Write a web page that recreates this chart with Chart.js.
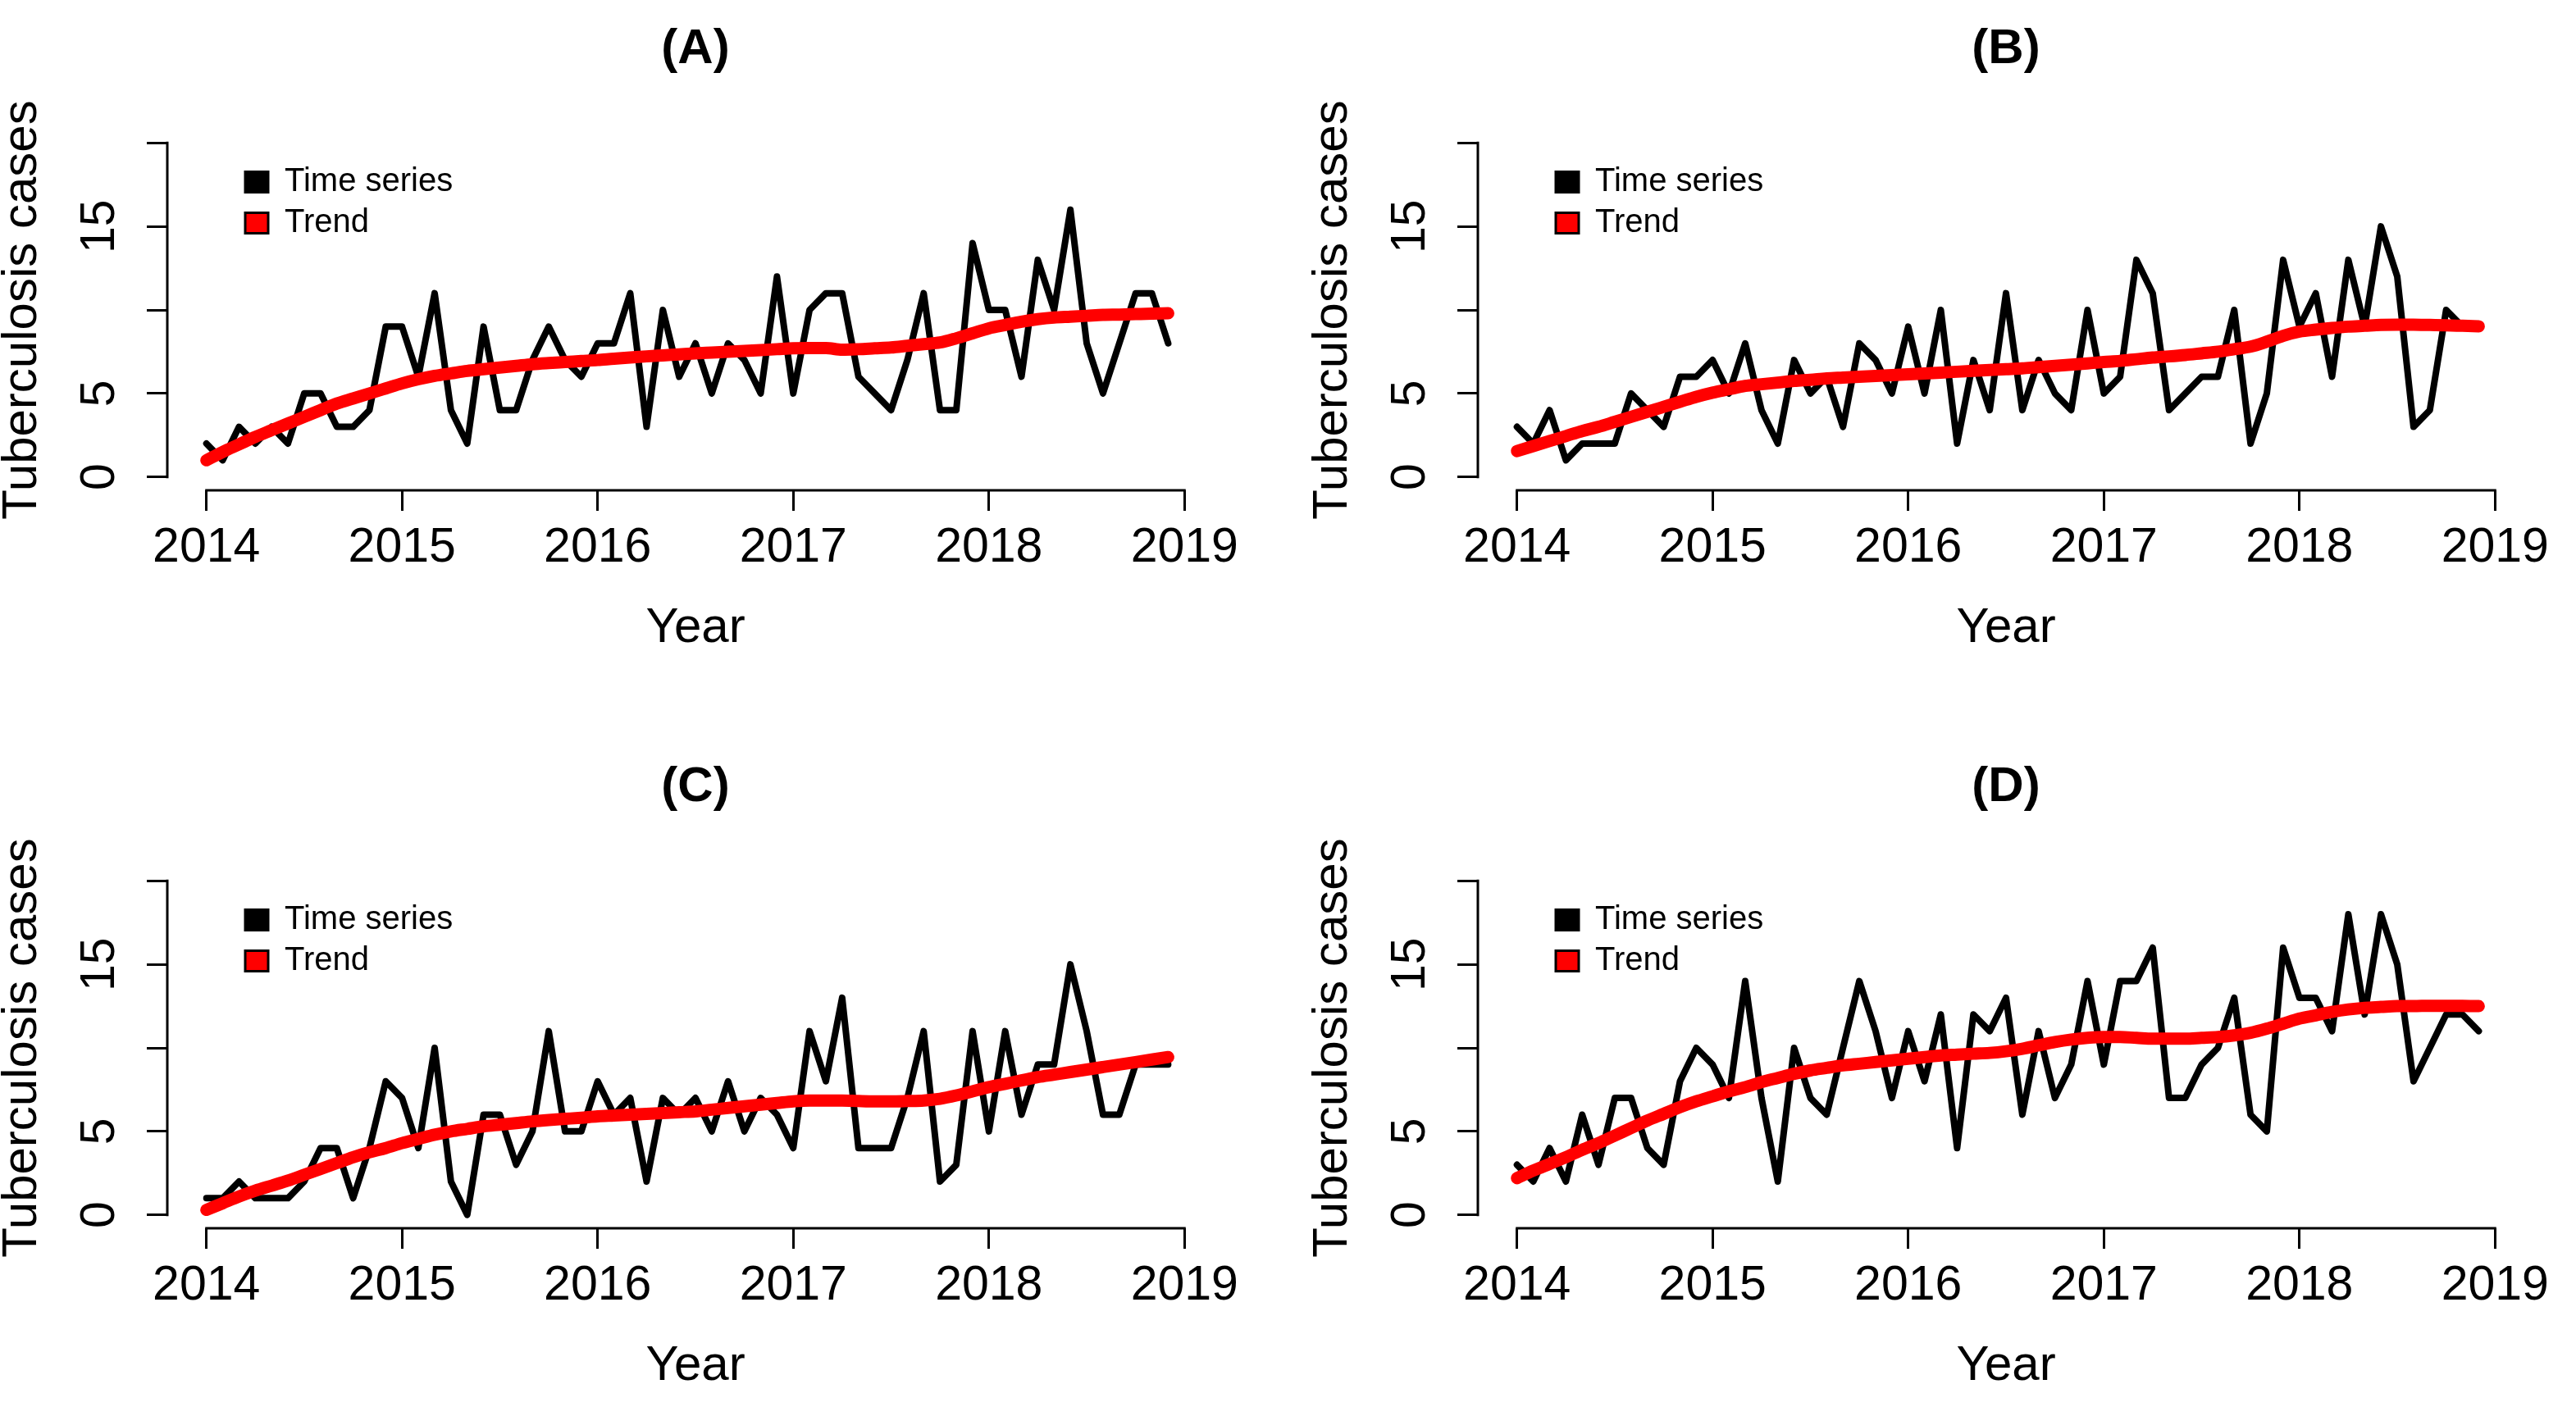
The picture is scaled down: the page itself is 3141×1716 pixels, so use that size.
<!DOCTYPE html>
<html>
<head>
<meta charset="utf-8">
<script src="https://cdn.jsdelivr.net/npm/chart.js@4.4.1/dist/chart.umd.min.js"></script>
<style>
html,body{margin:0;padding:0;background:#ffffff;overflow:hidden;width:3141px;height:1716px;}
canvas{position:absolute;}
</style>
</head>
<body>
<canvas id="panelA" width="1696" height="860" style="left:0px;top:0px"></canvas>
<canvas id="panelB" width="1696" height="860" style="left:1598px;top:0px"></canvas>
<canvas id="panelC" width="1696" height="860" style="left:0px;top:900px"></canvas>
<canvas id="panelD" width="1696" height="860" style="left:1598px;top:900px"></canvas>
<script>
// ---------- data ----------
const startYear = 2014;
const monthsPerYear = 12;
const xTickValues = [2014, 2015, 2016, 2017, 2018, 2019];
const xTickLabels = ['2014', '2015', '2016', '2017', '2018', '2019'];
const yTickValues = [0, 5, 10, 15, 20];
const yTickLabels = ['0', '5', '', '15', ''];
const panelTitles = ['(A)', '(B)', '(C)', '(D)'];
const legendLabels = ['Time series', 'Trend'];
const xAxisTitle = 'Year';
const yAxisTitle = 'Tuberculosis cases';

const seriesA = [2,1,3,2,3,2,5,5,3,3,4,9,9,6,11,4,2,9,4,4,7,9,7,6,8,8,11,3,10,6,8,5,
                 8,7,5,12,5,10,11,11,6,5,4,7,11,4,4,14,10,10,6,13,10,16,8,5,8,11,11,8];
const trendA  = [1.0,1.5,1.95,2.4,2.8,3.2,3.6,4.0,4.4,4.7,5.0,5.3,5.6,5.85,6.05,6.2,6.35,6.45,6.55,6.65,
                 6.75,6.82,6.88,6.94,7.0,7.08,7.15,7.22,7.28,7.34,7.4,7.45,7.5,7.55,7.6,7.65,7.7,7.72,7.72,7.62,
                 7.65,7.7,7.75,7.85,7.95,8.05,8.3,8.6,8.9,9.1,9.3,9.45,9.55,9.6,9.65,9.7,9.72,9.75,9.78,9.8];

const seriesB = [3,2,4,1,2,2,2,5,4,3,6,6,7,5,8,4,2,7,5,6,3,8,7,5,9,5,10,2,7,4,11,4,
                 7,5,4,10,5,6,13,11,4,5,6,6,10,2,5,13,9,11,6,13,9,15,12,3,4,10,9,9];
const trendB  = [1.55,1.85,2.15,2.45,2.75,3.0,3.3,3.6,3.9,4.2,4.5,4.8,5.05,5.25,5.45,5.55,5.65,5.75,5.82,5.9,
                 5.95,6.0,6.05,6.1,6.15,6.2,6.25,6.3,6.35,6.4,6.45,6.5,6.58,6.65,6.72,6.8,6.88,6.95,7.05,7.15,
                 7.22,7.3,7.4,7.5,7.65,7.8,8.1,8.45,8.7,8.82,8.92,9.0,9.05,9.1,9.12,9.12,9.1,9.08,9.05,9.02];

const seriesC = [1,1,2,1,1,1,2,4,4,1,4,8,7,4,10,2,0,6,6,3,5,11,5,5,8,6,7,2,7,6,7,5,
                 8,5,7,6,4,11,8,13,4,4,4,7,11,2,3,11,5,11,6,9,9,15,11,6,6,9,9,9];
const trendC  = [0.3,0.7,1.1,1.45,1.75,2.05,2.4,2.75,3.1,3.45,3.75,4.0,4.3,4.55,4.8,5.0,5.15,5.3,5.4,5.5,
                 5.6,5.68,5.75,5.82,5.9,5.95,6.0,6.05,6.1,6.15,6.2,6.3,6.4,6.5,6.6,6.7,6.8,6.85,6.85,6.85,
                 6.82,6.8,6.8,6.82,6.85,6.95,7.15,7.4,7.65,7.85,8.05,8.25,8.4,8.55,8.7,8.85,9.0,9.15,9.3,9.45];

const seriesD = [3,2,4,2,6,3,7,7,4,3,8,10,9,7,14,7,2,10,7,6,10,14,11,7,11,8,12,4,12,11,13,6,
                 11,7,9,14,9,14,14,16,7,7,9,10,13,6,5,16,13,13,11,18,12,18,15,8,10,12,12,11];
const trendD  = [2.2,2.65,3.05,3.45,3.9,4.3,4.75,5.2,5.65,6.05,6.45,6.8,7.1,7.4,7.65,7.95,8.2,8.45,8.65,8.8,
                 8.95,9.05,9.15,9.25,9.35,9.45,9.55,9.6,9.65,9.7,9.8,9.95,10.15,10.35,10.5,10.6,10.65,10.65,10.6,10.55,
                 10.55,10.55,10.6,10.65,10.75,10.9,11.15,11.45,11.75,11.95,12.15,12.3,12.4,12.45,12.5,12.5,12.52,12.52,12.52,12.5];

// ---------- styling / layout ----------
const FONT = "'Liberation Sans', Arial, Helvetica, sans-serif";
const seriesColor = '#000000';
const trendColor = '#ff0000';
const legendFill = [seriesColor, trendColor];

const toPoints = (vals) => vals.map((v, i) => ({ x: startYear + i / monthsPerYear, y: v }));

const rStylePlugin = {
  id: 'rStyle',
  afterLayout(chart) {
    if (chart.legend) {
      chart.legend.left = chart.chartArea.left + 85;
      chart.legend.top = chart.chartArea.top + 34;
    }
  },
  beforeDatasetsDraw(chart) {
    const { ctx, chartArea, scales } = chart;
    const x = scales.x, y = scales.y;
    ctx.save();
    ctx.strokeStyle = '#000';
    ctx.lineWidth = 3;
    ctx.lineCap = 'square';
    ctx.beginPath();
    const yb = Math.round(chartArea.bottom);
    ctx.moveTo(x.getPixelForValue(xTickValues[0]), yb);
    ctx.lineTo(x.getPixelForValue(xTickValues[xTickValues.length - 1]), yb);
    const xl = Math.round(chartArea.left);
    ctx.moveTo(xl, y.getPixelForValue(yTickValues[0]));
    ctx.lineTo(xl, y.getPixelForValue(yTickValues[yTickValues.length - 1]));
    ctx.stroke();
    ctx.restore();
  }
};

function makePanel(canvasId, title, series, trend) {
  const ctx = document.getElementById(canvasId).getContext('2d');
  return new Chart(ctx, {
    type: 'line',
    data: {
      datasets: [
        {
          label: legendLabels[0],
          data: toPoints(series),
          borderColor: seriesColor,
          backgroundColor: seriesColor,
          borderWidth: 8,
          borderJoinStyle: 'round',
          borderCapStyle: 'round',
          pointRadius: 0,
          tension: 0,
          order: 2
        },
        {
          label: legendLabels[1],
          data: toPoints(trend),
          borderColor: trendColor,
          backgroundColor: trendColor,
          borderWidth: 15,
          borderJoinStyle: 'round',
          borderCapStyle: 'round',
          pointRadius: 0,
          cubicInterpolationMode: 'monotone',
          order: 1
        }
      ]
    },
    options: {
      responsive: false,
      animation: false,
      devicePixelRatio: 1,
      layout: { padding: 0 },
      plugins: {
        tooltip: { enabled: false },
        title: {
          display: true,
          text: title,
          color: '#000',
          font: { family: FONT, size: 60, weight: 'bold' },
          padding: { top: 24, bottom: 62 }
        },
        legend: {
          display: true,
          position: 'chartArea',
          align: 'start',
          labels: {
            color: '#000',
            font: { family: FONT, size: 40 },
            boxWidth: 28,
            boxHeight: 25,
            padding: 10,
            generateLabels: () => legendLabels.map((text, i) => ({
              text: text,
              fillStyle: legendFill[i],
              strokeStyle: '#000',
              lineWidth: 3,
              hidden: false,
              datasetIndex: i,
              fontColor: '#000'
            }))
          }
        }
      },
      scales: {
        x: {
          type: 'linear',
          min: 2013.8,
          max: 2019.2,
          afterBuildTicks: (s) => { s.ticks = xTickValues.map(v => ({ value: v })); },
          afterFit: (s) => { s.height = 262; },
          border: { display: false },
          grid: { display: true, drawOnChartArea: false, drawTicks: true, tickLength: 25, color: '#000', lineWidth: 3 },
          ticks: {
            autoSkip: false, maxRotation: 0, minRotation: 0, padding: 10,
            color: '#000', font: { family: FONT, size: 59 },
            callback: (v, i) => xTickLabels[i]
          },
          title: {
            display: true, text: xAxisTitle, color: '#000',
            font: { family: FONT, size: 60 },
            padding: { top: 0, bottom: 58 }
          }
        },
        y: {
          type: 'linear',
          position: 'left',
          min: -0.8,
          max: 20.8,
          afterBuildTicks: (s) => { s.ticks = yTickValues.map(v => ({ value: v })); },
          afterFit: (s) => { s.width = 204; },
          border: { display: false },
          grid: { display: true, drawOnChartArea: false, drawTicks: true, tickLength: 25, color: '#000', lineWidth: 3 },
          ticks: {
            autoSkip: false, minRotation: 90, maxRotation: 90, padding: 23,
            crossAlign: 'center',
            color: '#000', font: { family: FONT, size: 59 },
            callback: (v, i) => yTickLabels[i]
          },
          title: {
            display: true, text: yAxisTitle, color: '#000',
            font: { family: FONT, size: 60, lineHeight: 0.9 },
            padding: { top: 0, bottom: 0 }
          }
        },
        yR: {
          type: 'linear',
          position: 'right',
          display: true,
          afterFit: (s) => { s.width = 204; },
          border: { display: false },
          grid: { display: false },
          ticks: { display: false }
        }
      }
    },
    plugins: [rStylePlugin]
  });
}

makePanel('panelA', panelTitles[0], seriesA, trendA);
makePanel('panelB', panelTitles[1], seriesB, trendB);
makePanel('panelC', panelTitles[2], seriesC, trendC);
makePanel('panelD', panelTitles[3], seriesD, trendD);
</script>
</body>
</html>
